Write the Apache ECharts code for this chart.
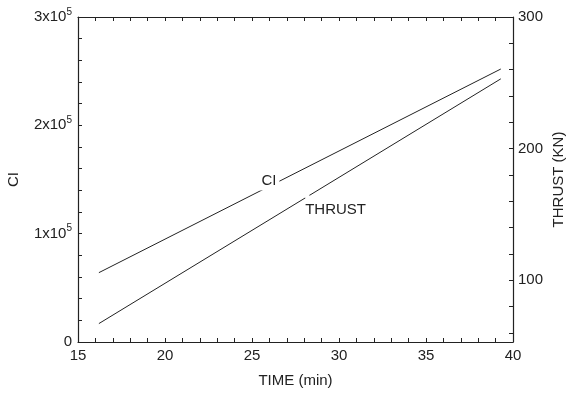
<!DOCTYPE html>
<html>
<head>
<meta charset="utf-8">
<script src="https://cdn.jsdelivr.net/npm/echarts@6/dist/echarts.min.js"></script>
<style>
  html, body { margin: 0; padding: 0; background: #fff; }
  #chart { width: 566px; height: 395px; }
</style>
</head>
<body>
<div id="chart"></div>
<script>
// data
const timeMin = [16.2, 39.3]
const ciValues = [64000, 252000]
const thrustValues = [67, 253]

// where the in-plot labels sit (time, value)
const ciLabelAt = [26, 143600]
const thrustLabelAt = [28.2, 163]

// ticks
const timeLabels = [15, 20, 25, 30, 35, 40]
const timeTicks = [15, 16, 17, 18, 19, 20, 21, 22, 23, 24, 25, 26, 27, 28, 29, 30, 31, 32, 33, 34, 35, 36, 37, 38, 39, 40]
const ciLabels = [0, 100000, 200000, 300000]
const ciTicks = [0, 20000, 40000, 60000, 80000, 100000, 120000, 140000, 160000, 180000, 200000, 220000, 240000, 260000, 280000, 300000]
const thrustLabels = [100, 200, 300]
const thrustTicks = [60, 80, 100, 120, 140, 160, 180, 200, 220, 240, 260, 280, 300]

const font = 'Liberation Sans, Arial, sans-serif'
const ink = '#222'

const chart = echarts.init(document.getElementById('chart'), null, { renderer: 'canvas' })

const boxLine = { show: true, onZero: false, lineStyle: { color: ink, width: 1.2 } }
const inTick = (vals) => ({ show: true, inside: true, length: 4, customValues: vals, lineStyle: { color: ink, width: 1 } })

chart.setOption({
  animation: false,
  grid: { left: 78, right: 53, top: 17, bottom: 53, outerBoundsMode: 'none', containLabel: false },
  xAxis: [
    {
      type: 'value',
      min: 15,
      max: 40,
      name: 'TIME (min)',
      nameLocation: 'middle',
      nameGap: 31,
      nameMoveOverlap: false,
      nameTextStyle: { fontFamily: font, fontSize: 15, color: ink },
      axisLine: boxLine,
      axisTick: inTick(timeTicks),
      axisLabel: { customValues: timeLabels, margin: 6, fontFamily: font, fontSize: 15, color: ink },
      splitLine: { show: false }
    },
    {
      type: 'value',
      position: 'top',
      min: 15,
      max: 40,
      axisLine: boxLine,
      axisTick: inTick(timeTicks),
      axisLabel: { show: false },
      splitLine: { show: false }
    }
  ],
  yAxis: [
    {
      type: 'value',
      min: 0,
      max: 300000,
      name: 'CI',
      nameLocation: 'middle',
      nameRotate: 90,
      nameGap: 57,
      nameMoveOverlap: false,
      nameTextStyle: { fontFamily: font, fontSize: 15, color: ink },
      axisLine: boxLine,
      axisTick: inTick(ciTicks),
      axisLabel: {
        customValues: ciLabels,
        margin: 6,
        color: ink,
        formatter: (v) => v === 0 ? '{a|0}' : '{a|' + (v / 100000) + 'x10}{b|5}',
        rich: {
          a: { fontFamily: font, fontSize: 15, color: ink },
          b: { fontFamily: font, fontSize: 10, color: ink, verticalAlign: 'top', padding: [0, 0, 10, 0] }
        }
      },
      splitLine: { show: false }
    },
    {
      type: 'value',
      min: 53,
      max: 300,
      position: 'right',
      name: 'THRUST (KN)',
      nameLocation: 'middle',
      nameRotate: 90,
      nameGap: 38,
      nameMoveOverlap: false,
      nameTextStyle: { fontFamily: font, fontSize: 15, color: ink },
      axisLine: boxLine,
      axisTick: inTick(thrustTicks),
      axisLabel: { customValues: thrustLabels, margin: 5, fontFamily: font, fontSize: 15, color: ink },
      splitLine: { show: false }
    }
  ],
  series: [
    {
      name: 'CI',
      type: 'line',
      xAxisIndex: 0,
      yAxisIndex: 0,
      data: timeMin.map((t, i) => [t, ciValues[i]]),
      showSymbol: false,
      lineStyle: { color: ink, width: 1 },
      markPoint: {
        symbol: 'circle',
        symbolSize: 0,
        data: [{
          coord: ciLabelAt,
          label: {
            show: true,
            formatter: 'CI',
            position: 'inside',
            offset: [0, -6],
            backgroundColor: '#fff',
            padding: [1, 3, 4, 2],
            fontFamily: font,
            fontSize: 15,
            color: ink
          }
        }]
      }
    },
    {
      name: 'THRUST',
      type: 'line',
      xAxisIndex: 0,
      yAxisIndex: 1,
      data: timeMin.map((t, i) => [t, thrustValues[i]]),
      showSymbol: false,
      lineStyle: { color: ink, width: 1 },
      markPoint: {
        symbol: 'circle',
        symbolSize: 5,
        itemStyle: { color: '#fff' },
        data: [{
          coord: thrustLabelAt,
          label: {
            show: true,
            formatter: 'THRUST',
            position: [0, 8],
            align: 'left',
            verticalAlign: 'top',
            fontFamily: font,
            fontSize: 15,
            color: ink
          }
        }]
      }
    }
  ]
})
</script>
</body>
</html>
